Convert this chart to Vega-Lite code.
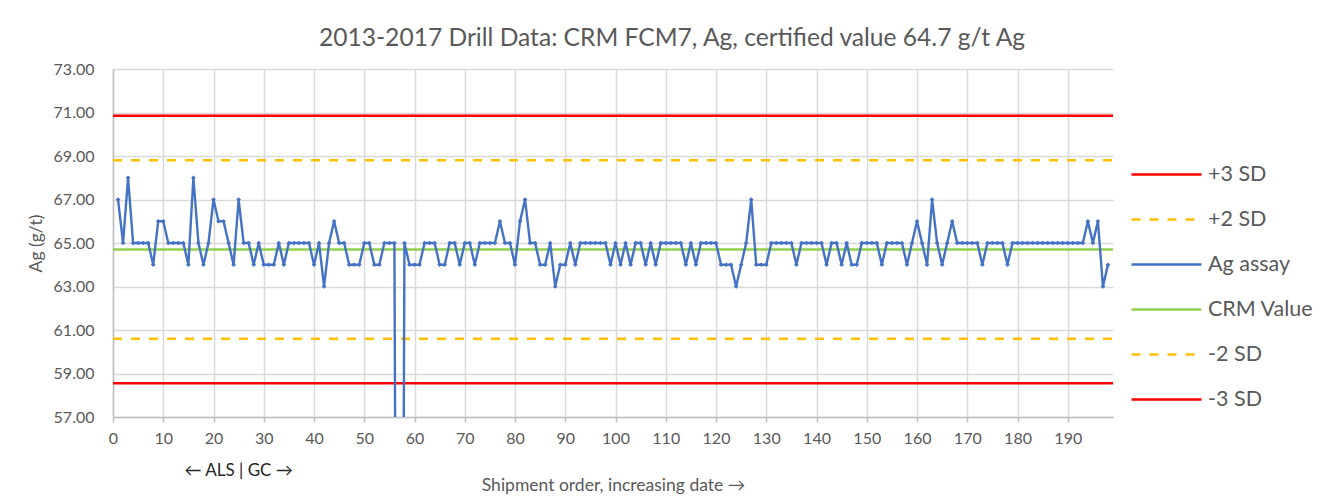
{
  "$schema": "https://vega.github.io/schema/vega-lite/v6.json",
  "width": 1000,
  "height": 348,
  "autosize": {"type": "none"},
  "padding": {"left": 113, "top": 69, "right": 213, "bottom": 83},
  "background": "white",
  "title": {
    "text": "2013-2017 Drill Data: CRM FCM7, Ag, certified value 64.7 g/t Ag",
    "font": "Lato", "fontSize": 24.6, "fontWeight": "normal", "color": "#595959",
    "anchor": "middle", "dx": 59, "offset": 9
  },
  "datasets": {
    "assay": [
      {"x":1,"Ag":67},{"x":2,"Ag":65},{"x":3,"Ag":68},{"x":4,"Ag":65},{"x":5,"Ag":65},{"x":6,"Ag":65},{"x":7,"Ag":65},{"x":8,"Ag":64},{"x":9,"Ag":66},{"x":10,"Ag":66},
      {"x":11,"Ag":65},{"x":12,"Ag":65},{"x":13,"Ag":65},{"x":14,"Ag":65},{"x":15,"Ag":64},{"x":16,"Ag":68},{"x":17,"Ag":65},{"x":18,"Ag":64},{"x":19,"Ag":65},{"x":20,"Ag":67},
      {"x":21,"Ag":66},{"x":22,"Ag":66},{"x":23,"Ag":65},{"x":24,"Ag":64},{"x":25,"Ag":67},{"x":26,"Ag":65},{"x":27,"Ag":65},{"x":28,"Ag":64},{"x":29,"Ag":65},{"x":30,"Ag":64},
      {"x":31,"Ag":64},{"x":32,"Ag":64},{"x":33,"Ag":65},{"x":34,"Ag":64},{"x":35,"Ag":65},{"x":36,"Ag":65},{"x":37,"Ag":65},{"x":38,"Ag":65},{"x":39,"Ag":65},{"x":40,"Ag":64},
      {"x":41,"Ag":65},{"x":42,"Ag":63},{"x":43,"Ag":65},{"x":44,"Ag":66},{"x":45,"Ag":65},{"x":46,"Ag":65},{"x":47,"Ag":64},{"x":48,"Ag":64},{"x":49,"Ag":64},{"x":50,"Ag":65},
      {"x":51,"Ag":65},{"x":52,"Ag":64},{"x":53,"Ag":64},{"x":54,"Ag":65},{"x":55,"Ag":65},{"x":56,"Ag":65},{"x":57,"Ag":6},{"x":58,"Ag":65},{"x":59,"Ag":64},{"x":60,"Ag":64},
      {"x":61,"Ag":64},{"x":62,"Ag":65},{"x":63,"Ag":65},{"x":64,"Ag":65},{"x":65,"Ag":64},{"x":66,"Ag":64},{"x":67,"Ag":65},{"x":68,"Ag":65},{"x":69,"Ag":64},{"x":70,"Ag":65},
      {"x":71,"Ag":65},{"x":72,"Ag":64},{"x":73,"Ag":65},{"x":74,"Ag":65},{"x":75,"Ag":65},{"x":76,"Ag":65},{"x":77,"Ag":66},{"x":78,"Ag":65},{"x":79,"Ag":65},{"x":80,"Ag":64},
      {"x":81,"Ag":66},{"x":82,"Ag":67},{"x":83,"Ag":65},{"x":84,"Ag":65},{"x":85,"Ag":64},{"x":86,"Ag":64},{"x":87,"Ag":65},{"x":88,"Ag":63},{"x":89,"Ag":64},{"x":90,"Ag":64},
      {"x":91,"Ag":65},{"x":92,"Ag":64},{"x":93,"Ag":65},{"x":94,"Ag":65},{"x":95,"Ag":65},{"x":96,"Ag":65},{"x":97,"Ag":65},{"x":98,"Ag":65},{"x":99,"Ag":64},{"x":100,"Ag":65},
      {"x":101,"Ag":64},{"x":102,"Ag":65},{"x":103,"Ag":64},{"x":104,"Ag":65},{"x":105,"Ag":65},{"x":106,"Ag":64},{"x":107,"Ag":65},{"x":108,"Ag":64},{"x":109,"Ag":65},{"x":110,"Ag":65},
      {"x":111,"Ag":65},{"x":112,"Ag":65},{"x":113,"Ag":65},{"x":114,"Ag":64},{"x":115,"Ag":65},{"x":116,"Ag":64},{"x":117,"Ag":65},{"x":118,"Ag":65},{"x":119,"Ag":65},{"x":120,"Ag":65},
      {"x":121,"Ag":64},{"x":122,"Ag":64},{"x":123,"Ag":64},{"x":124,"Ag":63},{"x":125,"Ag":64},{"x":126,"Ag":65},{"x":127,"Ag":67},{"x":128,"Ag":64},{"x":129,"Ag":64},{"x":130,"Ag":64},
      {"x":131,"Ag":65},{"x":132,"Ag":65},{"x":133,"Ag":65},{"x":134,"Ag":65},{"x":135,"Ag":65},{"x":136,"Ag":64},{"x":137,"Ag":65},{"x":138,"Ag":65},{"x":139,"Ag":65},{"x":140,"Ag":65},
      {"x":141,"Ag":65},{"x":142,"Ag":64},{"x":143,"Ag":65},{"x":144,"Ag":65},{"x":145,"Ag":64},{"x":146,"Ag":65},{"x":147,"Ag":64},{"x":148,"Ag":64},{"x":149,"Ag":65},{"x":150,"Ag":65},
      {"x":151,"Ag":65},{"x":152,"Ag":65},{"x":153,"Ag":64},{"x":154,"Ag":65},{"x":155,"Ag":65},{"x":156,"Ag":65},{"x":157,"Ag":65},{"x":158,"Ag":64},{"x":159,"Ag":65},{"x":160,"Ag":66},
      {"x":161,"Ag":65},{"x":162,"Ag":64},{"x":163,"Ag":67},{"x":164,"Ag":65},{"x":165,"Ag":64},{"x":166,"Ag":65},{"x":167,"Ag":66},{"x":168,"Ag":65},{"x":169,"Ag":65},{"x":170,"Ag":65},
      {"x":171,"Ag":65},{"x":172,"Ag":65},{"x":173,"Ag":64},{"x":174,"Ag":65},{"x":175,"Ag":65},{"x":176,"Ag":65},{"x":177,"Ag":65},{"x":178,"Ag":64},{"x":179,"Ag":65},{"x":180,"Ag":65},
      {"x":181,"Ag":65},{"x":182,"Ag":65},{"x":183,"Ag":65},{"x":184,"Ag":65},{"x":185,"Ag":65},{"x":186,"Ag":65},{"x":187,"Ag":65},{"x":188,"Ag":65},{"x":189,"Ag":65},{"x":190,"Ag":65},
      {"x":191,"Ag":65},{"x":192,"Ag":65},{"x":193,"Ag":65},{"x":194,"Ag":66},{"x":195,"Ag":65},{"x":196,"Ag":66},{"x":197,"Ag":63},{"x":198,"Ag":64}
    ],
    "limits": [
      {"series":"+3 SD","x":0,"Ag":70.85},{"series":"+3 SD","x":199,"Ag":70.85},
      {"series":"+2 SD","x":0,"Ag":68.8},{"series":"+2 SD","x":199,"Ag":68.8},
      {"series":"CRM Value","x":0,"Ag":64.7},{"series":"CRM Value","x":199,"Ag":64.7},
      {"series":"-2 SD","x":0,"Ag":60.6},{"series":"-2 SD","x":199,"Ag":60.6},
      {"series":"-3 SD","x":0,"Ag":58.55},{"series":"-3 SD","x":199,"Ag":58.55}
    ],
    "notes": [{"x":25,"label":"← ALS | GC →"}]
  },
  "layer": [
    {
      "data": {"name": "limits"},
      "mark": {"type": "line", "clip": true, "strokeWidth": 2.5},
      "encoding": {
        "x": {"field": "x", "type": "quantitative"},
        "y": {"field": "Ag", "type": "quantitative"},
        "detail": {"field": "series"},
        "color": {"field": "series", "type": "nominal"},
        "strokeDash": {"field": "series", "type": "nominal"}
      }
    },
    {
      "data": {"name": "assay"},
      "mark": {"type": "line", "clip": true, "strokeWidth": 2.4,
               "point": {"filled": true, "shape": "diamond", "size": 22, "clip": true}},
      "encoding": {
        "x": {"field": "x", "type": "quantitative"},
        "y": {"field": "Ag", "type": "quantitative"},
        "color": {"datum": "Ag assay", "type": "nominal"},
        "strokeDash": {"datum": "Ag assay", "type": "nominal"}
      }
    },
    {
      "data": {"name": "notes"},
      "mark": {"type": "text", "font": "Lato", "fontSize": 17, "color": "#262626", "dy": 54, "baseline": "middle", "align": "center", "clip": false},
      "encoding": {
        "x": {"field": "x", "type": "quantitative"},
        "y": {"datum": 57},
        "text": {"field": "label"}
      }
    }
  ],
  "encoding": {
    "x": {
      "type": "quantitative",
      "scale": {"domain": [0, 199], "nice": false, "zero": false},
      "axis": {
        "values": [0,10,20,30,40,50,60,70,80,90,100,110,120,130,140,150,160,170,180,190],
        "title": "Shipment order, increasing date →",
        "titleFontSize": 17.5, "titlePadding": 30,
        "labelFontSize": 16, "labelPadding": 8, "tickSize": 5, "labelFlush": false
      }
    },
    "y": {
      "type": "quantitative",
      "scale": {"domain": [57, 73], "nice": false, "zero": false},
      "axis": {
        "values": [57,59,61,63,65,67,69,71,73],
        "format": ".2f",
        "title": "Ag (g/t)",
        "titleFontSize": 17.5, "titlePadding": 8,
        "labelFontSize": 16, "labelPadding": 19, "tickSize": 0, "labelFlush": false
      }
    },
    "color": {
      "type": "nominal",
      "scale": {
        "domain": ["+3 SD", "+2 SD", "Ag assay", "CRM Value", "-2 SD", "-3 SD"],
        "range": ["#FF0000", "#FFC000", "#4472C4", "#92D050", "#FFC000", "#FF0000"]
      },
      "legend": {
        "title": null, "orient": "none", "legendX": 1017, "legendY": 83,
        "symbolType": "stroke", "symbolSize": 4900, "symbolStrokeWidth": 2.5,
        "labelFont": "Lato", "labelFontSize": 21.5, "labelColor": "#595959", "labelOffset": 5,
        "clipHeight": 45, "rowPadding": 0
      }
    },
    "strokeDash": {
      "type": "nominal",
      "scale": {
        "domain": ["+3 SD", "+2 SD", "Ag assay", "CRM Value", "-2 SD", "-3 SD"],
        "range": [[1,0], [9,9], [1,0], [1,0], [9,9], [1,0]]
      },
      "legend": {
        "title": null, "orient": "none", "legendX": 1017, "legendY": 83,
        "symbolType": "stroke", "symbolSize": 4900, "symbolStrokeWidth": 2.5,
        "labelFont": "Lato", "labelFontSize": 21.5, "labelColor": "#595959", "labelOffset": 5,
        "clipHeight": 45, "rowPadding": 0
      }
    }
  },
  "config": {
    "view": {"stroke": null},
    "font": "Lato",
    "axis": {
      "labelFont": "Lato", "titleFont": "Lato", "labelColor": "#595959", "titleColor": "#595959",
      "titleFontWeight": "normal", "domainColor": "#bfbfbf", "gridColor": "#d9d9d9", "gridWidth": 1.5,
      "domainWidth": 1.5, "tickColor": "#bfbfbf", "tickWidth": 1.5
    }
  }
}
